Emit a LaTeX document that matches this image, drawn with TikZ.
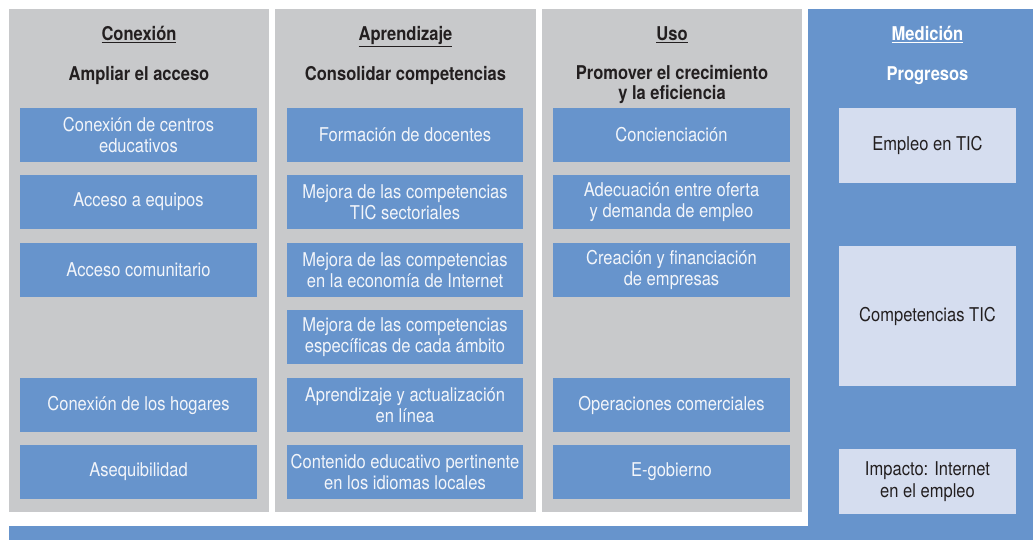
\documentclass[tikz,border=0pt]{standalone}
\usepackage{fontspec}
\setmainfont[FakeStretch=0.87]{TeX Gyre Heros}
\definecolor{panelgray}{HTML}{C8C9CB}
\definecolor{mblue}{HTML}{6794CC}
\definecolor{lightbox}{HTML}{D5DDEF}
\definecolor{boxtext}{HTML}{F2F5FA}
\definecolor{darktext}{HTML}{231F20}
\tikzset{
  itembox/.style={fill=mblue, text=boxtext, align=center, inner sep=0pt,
    minimum height=54pt, font=\fontsize{19}{21.5}\selectfont},
  measbox/.style={fill=lightbox, text=darktext, align=center, inner sep=0pt,
    minimum width=177pt, font=\fontsize{19}{21.5}\selectfont},
  coltitle/.style={text=darktext, font=\bfseries\fontsize{19}{21}\selectfont, align=center, inner sep=0pt, anchor=base},
  colsub/.style={text=darktext, font=\bfseries\fontsize{19}{20.5}\selectfont, align=center, inner sep=0pt},
}
\begin{document}
\begin{tikzpicture}[x=1pt,y=-1pt]
\useasboundingbox (0,0) rectangle (1033,540);
\fill[white] (0,0) rectangle (1033,540);
% blue L-shaped background
\fill[mblue] (808,9) rectangle (1033,540);
\fill[mblue] (9,526) rectangle (1033,540);
% gray panels
\fill[panelgray] (9,9) rectangle (269,512);
\fill[panelgray] (275,9) rectangle (536,512);
\fill[panelgray] (542,9) rectangle (802,512);
% titles
\node[coltitle] (t1) at (139,41) {\underline{Conexión}};
\node[coltitle] (t2) at (405.5,41) {\underline{Aprendizaje}};
\node[coltitle] (t3) at (672,41) {\underline{Uso}};
\node[coltitle, text=white] (t4) at (927.5,41) {\underline{Medición}};
\node[colsub, anchor=base] (s1) at (139,81) {Ampliar el acceso};
\node[colsub, anchor=base] (s2) at (405.5,81) {Consolidar competencias};
\node[colsub] (s3) at (672,84.5) {Promover el crecimiento\\y la eficiencia};
\node[colsub, anchor=base, text=white] (s4) at (927.5,81) {Progresos};
% column 1
\node[itembox, minimum width=237pt] (c1r1) at (138.5,135) {Conexión de centros\\educativos};
\node[itembox, minimum width=237pt] (c1r2) at (138.5,202) {Acceso a equipos};
\node[itembox, minimum width=237pt] (c1r3) at (138.5,270) {Acceso comunitario};
\node[itembox, minimum width=237pt] (c1r5) at (138.5,405) {Conexión de los hogares};
\node[itembox, minimum width=237pt] (c1r6) at (138.5,472) {Asequibilidad};
% column 2
\node[itembox, minimum width=236pt] (c2r1) at (405,135) {Formación de docentes};
\node[itembox, minimum width=236pt] (c2r2) at (405,202) {Mejora de las competencias\\TIC sectoriales};
\node[itembox, minimum width=236pt] (c2r3) at (405,270) {Mejora de las competencias\\en la economía de Internet};
\node[itembox, minimum width=236pt] (c2r4) at (405,337) {Mejora de las competencias\\específicas de cada ámbito};
\node[itembox, minimum width=236pt] (c2r5) at (405,405) {Aprendizaje y actualización\\en línea};
\node[itembox, minimum width=236pt] (c2r6) at (405,472) {Contenido educativo pertinente\\en los idiomas locales};
% column 3
\node[itembox, minimum width=237pt] (c3r1) at (671.5,135) {Concienciación};
\node[itembox, minimum width=237pt] (c3r2) at (671.5,202) {Adecuación entre oferta\\y demanda de empleo};
\node[itembox, minimum width=237pt] (c3r3) at (671.5,270) {Creación y financiación\\de empresas};
\node[itembox, minimum width=237pt] (c3r5) at (671.5,405) {Operaciones comerciales};
\node[itembox, minimum width=237pt] (c3r6) at (671.5,472) {E-gobierno};
% measurement column
\node[measbox, minimum height=75pt] (m1) at (927.5,145.5) {Empleo en TIC};
\node[measbox, minimum height=140pt] (m2) at (927.5,316) {Competencias TIC};
\node[measbox, minimum height=65pt] (m3) at (927.5,481.5) {Impacto: Internet\\en el empleo};
\end{tikzpicture}
\end{document}
